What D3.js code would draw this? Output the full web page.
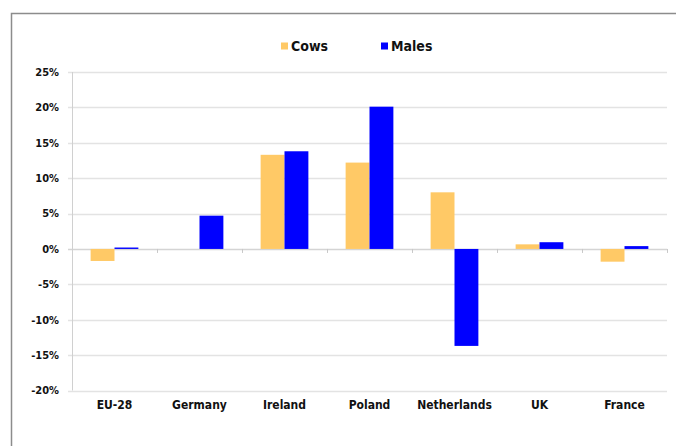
<!DOCTYPE html>
<html>
<head>
<meta charset="utf-8">
<script src="https://cdn.jsdelivr.net/npm/d3@7"></script>
<style>
  body { margin: 0; background: #fff; }
  svg { display: block; font-family: "DejaVu Sans Condensed", "DejaVu Sans", sans-serif; font-weight: bold; }
</style>
</head>
<body>
<div id="chart"></div>
<script>
// data (% change)
const countries = ["EU-28", "Germany", "Ireland", "Poland", "Netherlands", "UK", "France"];
const cows = [-1.7, 0, 13.3, 12.2, 8.0, 0.65, -1.8];
const males = [0.2, 4.7, 13.8, 20.1, -13.7, 0.95, 0.4];
const seriesNames = ["Cows", "Males"];
const seriesColors = ["#ffc966", "#0000ff"];
const yTicks = [-20, -15, -10, -5, 0, 5, 10, 15, 20, 25];

const width = 676, height = 446;
const margin = { top: 72, right: 9, bottom: 55, left: 72 };

const svg = d3.select("#chart").append("svg")
  .attr("width", width)
  .attr("height", height);

// outer frame (only top and left edges show in the picture)
svg.append("path")
  .attr("d", `M11.5,${height} V13.5 H${width}`)
  .attr("fill", "none")
  .attr("stroke", "#8c8c8c")
  .attr("stroke-width", 1.5);

const x = d3.scaleBand()
  .domain(countries)
  .range([margin.left, width - margin.right]);

const x1 = d3.scaleBand()
  .domain(seriesNames)
  .range([0, x.bandwidth()])
  .paddingOuter(0.78);

const y = d3.scaleLinear()
  .domain([-20, 25])
  .range([height - margin.bottom - 0.5, margin.top]);

// gridlines
svg.append("g")
  .selectAll("line")
  .data(yTicks)
  .join("line")
  .attr("x1", margin.left - 4)
  .attr("x2", width - margin.right)
  .attr("y1", (d) => Math.round(y(d)) + 0.5)
  .attr("y2", (d) => Math.round(y(d)) + 0.5)
  .attr("stroke", (d) => (d === 0 ? "#d4d4d4" : "#e3e3e3"))
  .attr("stroke-width", 1.3);

// y axis labels
svg.append("g")
  .selectAll("text")
  .data(yTicks)
  .join("text")
  .attr("x", 59)
  .attr("y", (d) => y(d))
  .attr("dy", "0.35em")
  .attr("text-anchor", "end")
  .attr("font-size", 11)
  .attr("fill", "#111")
  .text((d) => d + "%");

// y axis line
svg.append("line")
  .attr("x1", margin.left + 0.5)
  .attr("x2", margin.left + 0.5)
  .attr("y1", y(25))
  .attr("y2", y(-20))
  .attr("stroke", "#d0d0d0");

// category tick marks on zero line
svg.append("g")
  .selectAll("line")
  .data(countries.slice(1).concat(["end"]))
  .join("line")
  .attr("x1", (d, i) => Math.round(margin.left + (i + 1) * x.bandwidth()) + 0.5)
  .attr("x2", (d, i) => Math.round(margin.left + (i + 1) * x.bandwidth()) + 0.5)
  .attr("y1", y(0))
  .attr("y2", y(0) + 4)
  .attr("stroke", "#c8c8c8");

// bars
const rows = countries.map((c, i) => ({ country: c, values: [cows[i], males[i]] }));

svg.append("g")
  .selectAll("g")
  .data(rows)
  .join("g")
  .attr("transform", (d) => `translate(${x(d.country)},0)`)
  .selectAll("rect")
  .data((d) => d.values.map((v, j) => ({ key: seriesNames[j], value: v, color: seriesColors[j] })))
  .join("rect")
  .attr("x", (d) => x1(d.key))
  .attr("width", x1.bandwidth())
  .attr("y", (d) => y(Math.max(0, d.value)))
  .attr("height", (d) => Math.abs(y(d.value) - y(0)))
  .attr("fill", (d) => d.color);

// category labels
svg.append("g")
  .selectAll("text")
  .data(countries)
  .join("text")
  .attr("x", (d) => x(d) + x.bandwidth() / 2)
  .attr("y", 405)
  .attr("dy", "0.35em")
  .attr("text-anchor", "middle")
  .attr("font-size", 12)
  .attr("fill", "#111")
  .text((d) => d);

// legend
const legendX = [281, 381];
const legend = svg.append("g")
  .selectAll("g")
  .data(seriesNames)
  .join("g")
  .attr("transform", (d, i) => `translate(${legendX[i]},46)`);

legend.append("rect")
  .attr("x", 0)
  .attr("y", -3.5)
  .attr("width", 7)
  .attr("height", 7)
  .attr("fill", (d, i) => seriesColors[i]);

legend.append("text")
  .attr("x", 10)
  .attr("y", 0)
  .attr("dy", "0.35em")
  .attr("font-size", 14)
  .attr("fill", "#111")
  .text((d) => d);
</script>
</body>
</html>
